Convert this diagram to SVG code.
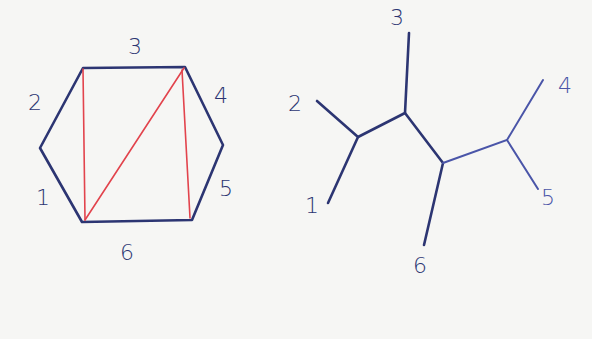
<svg xmlns="http://www.w3.org/2000/svg" width="592" height="339" viewBox="0 0 592 339">
<style>
.e{stroke:#2c3572;stroke-width:2.6;fill:none;stroke-linecap:round;stroke-linejoin:round}
.l{stroke:#4a55a8;stroke-width:2;fill:none;stroke-linecap:round}
.r{stroke:#e2434c;stroke-width:1.6;fill:none;stroke-linecap:round}
.t{font-family:"DejaVu Sans",sans-serif;font-size:22px;font-weight:300;fill:#2c3572;text-anchor:middle;dominant-baseline:central}
.tl{fill:#4a55a8}
</style>
<rect width="592" height="339" fill="#f6f6f4"/>
<g id="hexagon">
<polygon class="e" points="83,68 185,67 223,145 192,220 82,222 40,148"/>
</g>
<g id="diagonals">
<line class="r" x1="83" y1="69" x2="85" y2="220"/>
<line class="r" x1="184" y1="68" x2="85" y2="220"/>
<line class="r" x1="182" y1="70" x2="190" y2="218"/>
</g>
<g id="hex-labels">
<text class="t" x="135" y="46">3</text>
<text class="t" x="35" y="102">2</text>
<text class="t" x="221" y="95">4</text>
<text class="t" x="43" y="197">1</text>
<text class="t" x="226" y="188">5</text>
<text class="t" x="127" y="252">6</text>
</g>
<g id="tree">
<polyline class="e" points="317,101 358,137 328,203"/>
<polyline class="e" points="358,137 405,113 409,33"/>
<polyline class="e" points="405,113 443,163 424,245"/>
<polyline class="l" points="443,163 507,140 543,80"/>
<line class="l" x1="507" y1="140" x2="538" y2="189"/>
</g>
<g id="tree-labels">
<text class="t" x="295" y="103">2</text>
<text class="t" x="312" y="205">1</text>
<text class="t" x="397" y="17">3</text>
<text class="t" x="420" y="265">6</text>
<text class="t tl" x="565" y="85">4</text>
<text class="t tl" x="548" y="197">5</text>
</g>
</svg>
